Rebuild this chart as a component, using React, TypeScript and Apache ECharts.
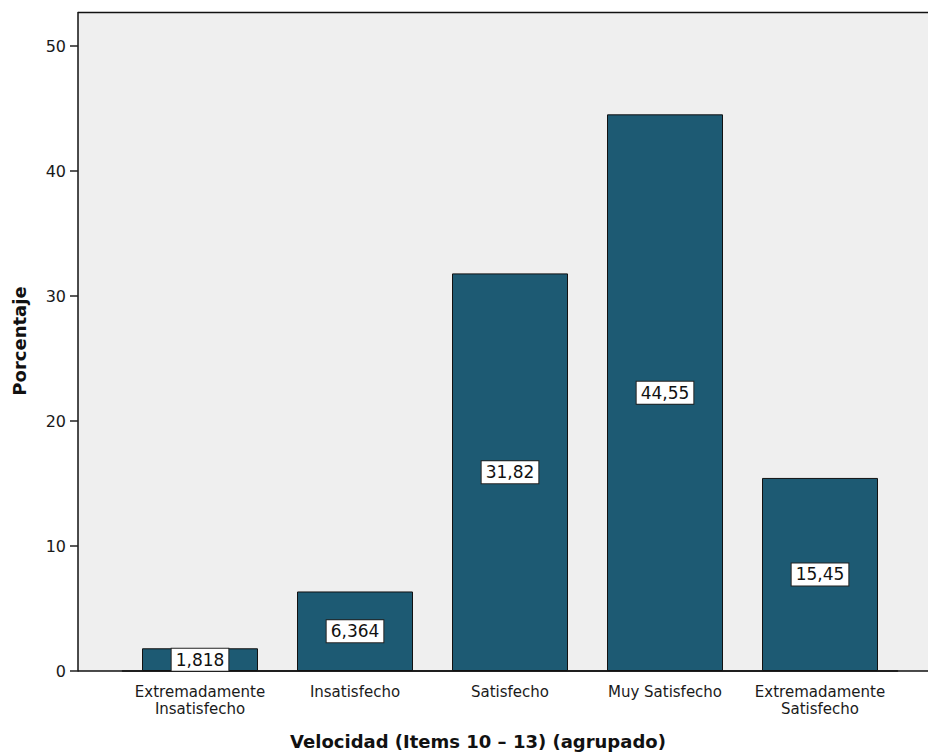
import React, { useEffect, useRef } from "react";
import * as echarts from "echarts";

const categories = [
  "Extremadamente\nInsatisfecho",
  "Insatisfecho",
  "Satisfecho",
  "Muy Satisfecho",
  "Extremadamente\nSatisfecho",
];
const percentages = [1.818, 6.364, 31.82, 44.55, 15.45];
const yTicks = [0, 10, 20, 30, 40, 50];
const xTitle = "Velocidad (Items 10 – 13) (agrupado)";
const yTitle = "Porcentaje";

export default function App() {
  const ref = useRef<HTMLDivElement>(null);
  useEffect(() => {
    if (!ref.current) return;
    const chart = echarts.init(ref.current, null, { renderer: "svg" });
    const font = "DejaVu Sans";
    chart.setOption({
      animation: false,
      textStyle: { fontFamily: font },
      grid: { left: 122.5, width: 775, top: 12.5, bottom: 85, containLabel: false },
      graphic: [
        {
          type: "rect",
          z: -10,
          silent: true,
          shape: { x: 78, y: 12.5, width: 860, height: 658.5 },
          style: { fill: "#efefef" },
        },
        {
          type: "line",
          silent: true,
          shape: { x1: 78, y1: 12.5, x2: 940, y2: 12.5 },
          style: { stroke: "#111", lineWidth: 1.5 },
        },
        {
          type: "line",
          silent: true,
          shape: { x1: 78, y1: 671, x2: 940, y2: 671 },
          style: { stroke: "#111", lineWidth: 1.5 },
        },
        {
          type: "text",
          x: 478,
          y: 741,
          style: {
            text: xTitle,
            font: `bold 18px "${font}"`,
            fill: "#111",
            align: "center",
            verticalAlign: "middle",
          },
        },
        {
          type: "text",
          x: 19,
          y: 341,
          rotation: Math.PI / 2,
          style: {
            text: yTitle,
            font: `bold 18px "${font}"`,
            fill: "#111",
            align: "center",
            verticalAlign: "middle",
          },
        },
      ],
      xAxis: {
        type: "category",
        data: categories,
        boundaryGap: true,
        axisLine: { lineStyle: { color: "#111", width: 1.5 } },
        axisTick: { alignWithLabel: true, length: 8, lineStyle: { color: "#222", width: 1.5 } },
        axisLabel: {
          color: "#1a1a1a",
          fontSize: 15,
          lineHeight: 17,
          margin: 12,
          interval: 0,
        },
      },
      yAxis: {
        type: "value",
        min: 0,
        max: 52.7,
        interval: 10,
        offset: 44.5,
        splitLine: { show: false },
        axisLine: { show: true, lineStyle: { color: "#111", width: 1.5 } },
        axisTick: { show: true, length: 8, customValues: yTicks, lineStyle: { color: "#222", width: 1.5 } },
        axisLabel: { color: "#1a1a1a", fontSize: 16, margin: 12, customValues: yTicks },
      },
      series: [
        {
          type: "bar",
          data: percentages,
          barWidth: 116,
          itemStyle: { color: "#1d5a73", borderColor: "#111", borderWidth: 1 },
          label: {
            show: true,
            position: "inside",
            formatter: (p: any) => String(p.value).replace(".", ","),
            color: "#111",
            fontSize: 17,
            backgroundColor: "#fff",
            borderColor: "#222",
            borderWidth: 1,
            padding: [3, 4, 2, 4],
          },
        },
      ],
    });
    return () => chart.dispose();
  }, []);
  return (
    <div
      ref={ref}
      style={{ position: "fixed", left: 0, top: 0, width: 928, height: 756, background: "#fff" }}
    />
  );
}
